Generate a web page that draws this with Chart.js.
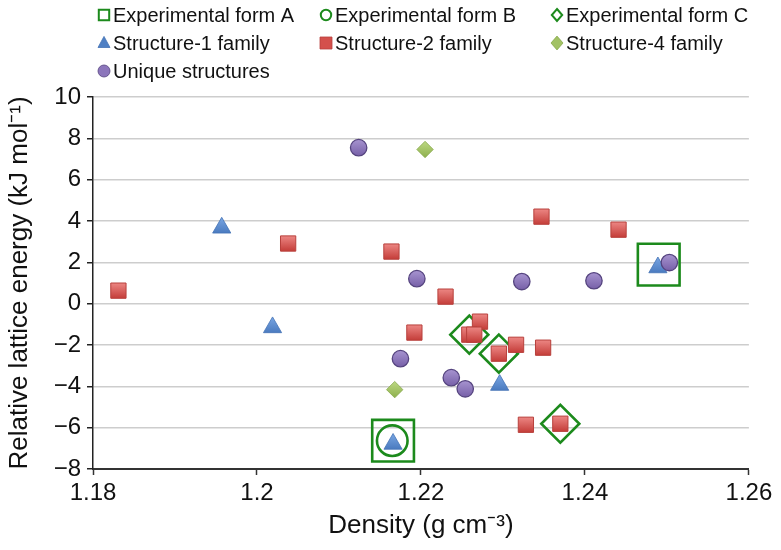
<!DOCTYPE html>
<html>
<head>
<meta charset="utf-8">
<script src="https://cdn.jsdelivr.net/npm/chart.js@4/dist/chart.umd.min.js"></script>
<style>
  html, body { margin: 0; padding: 0; background: #ffffff; }
  #wrap { width: 781px; height: 550px; }
</style>
</head>
<body>
<div id="wrap"><canvas id="c" width="781" height="550"></canvas></div>
<script>
// ---------------- DATA ----------------
const seriesNames = [
  'Experimental form A', 'Experimental form B', 'Experimental form C',
  'Structure-1 family', 'Structure-2 family', 'Structure-4 family',
  'Unique structures'
];

const formA_x = [1.2166, 1.2490];
const formA_y = [-6.63, 1.89];

const formB_x = [1.2165];
const formB_y = [-6.63];

const formC_x = [1.2259, 1.2295, 1.2370];
const formC_y = [-1.50, -2.42, -5.81];

const struct1_x = [1.1957, 1.2019, 1.2296, 1.2166, 1.2489];
const struct1_y = [3.67, -1.15, -3.94, -6.79, 1.75];

const struct2_x = [1.1831, 1.2038, 1.2164, 1.2347, 1.2441, 1.2230, 1.2192, 1.2272,
                   1.2259, 1.2265, 1.2295, 1.2316, 1.2349, 1.2328, 1.2370];
const struct2_y = [0.63, 2.91, 2.52, 4.21, 3.58, 0.34, -1.40, -0.87,
                   -1.50, -1.50, -2.42, -1.99, -2.13, -5.86, -5.81];

const struct4_x = [1.2205, 1.2168];
const struct4_y = [7.46, -4.16];

const unique_x = [1.2124, 1.2195, 1.2323, 1.2411, 1.2503, 1.2175, 1.2237, 1.2254];
const unique_y = [7.55, 1.21, 1.07, 1.11, 1.99, -2.66, -3.58, -4.12];

const xTickValues = [1.18, 1.20, 1.22, 1.24, 1.26];
const xTickLabels = ['1.18', '1.2', '1.22', '1.24', '1.26'];
const yTickValues = [-8, -6, -4, -2, 0, 2, 4, 6, 8, 10];
const yTickLabels = ['\u22128', '\u22126', '\u22124', '\u22122', '0', '2', '4', '6', '8', '10'];

const xTitle = 'Density (g cm\u207B\u00B3)';
const yTitle = 'Relative lattice energy (kJ mol\u207B\u00B9)';

// ---------------- helpers ----------------
function pts(xs, ys) { return xs.map((x, i) => ({ x: x, y: ys[i] })); }

function vGrad(top, bottom, radius) {
  return function (ctx) {
    if (ctx.type !== 'data' || !ctx.chart.scales || !ctx.chart.scales.y) return bottom;
    const y = ctx.chart.scales.y.getPixelForValue(ctx.raw.y);
    if (!isFinite(y)) return bottom;
    const g = ctx.chart.ctx.createLinearGradient(0, y - radius, 0, y + radius);
    g.addColorStop(0, top);
    g.addColorStop(1, bottom);
    return g;
  };
}

const FONT = "'Liberation Sans', Arial, Helvetica, sans-serif";
const EXP_GREEN = '#1c8a1c';

const datasets = [
  { label: seriesNames[0], data: pts(formA_x, formA_y), pointStyle: 'rect', pointRadius: 29.5,
    backgroundColor: 'rgba(0,0,0,0)', borderColor: EXP_GREEN, borderWidth: 2.6, order: 10,
    legendFill: 'rgba(0,0,0,0)', legendStroke: EXP_GREEN },
  { label: seriesNames[1], data: pts(formB_x, formB_y), pointStyle: 'circle', pointRadius: 15.3,
    backgroundColor: 'rgba(0,0,0,0)', borderColor: EXP_GREEN, borderWidth: 2.6, order: 10,
    legendFill: 'rgba(0,0,0,0)', legendStroke: EXP_GREEN },
  { label: seriesNames[2], data: pts(formC_x, formC_y), pointStyle: 'rectRot', pointRadius: 19,
    backgroundColor: 'rgba(0,0,0,0)', borderColor: EXP_GREEN, borderWidth: 2.6, order: 10,
    legendFill: 'rgba(0,0,0,0)', legendStroke: EXP_GREEN },
  { label: seriesNames[3], data: pts(struct1_x, struct1_y), pointStyle: 'triangle', pointRadius: 10.5,
    backgroundColor: vGrad('#79a6e3', '#3b6cb3', 10.5), borderColor: '#4472b5', borderWidth: 0.8, order: 3,
    legendFill: '#4f80c4', legendStroke: '#4472b5' },
  { label: seriesNames[4], data: pts(struct2_x, struct2_y), pointStyle: 'rect', pointRadius: 10.8,
    backgroundColor: vGrad('#ec8683', '#c43d39', 7.6), borderColor: '#b8403c', borderWidth: 1, order: 2,
    legendFill: '#d4504c', legendStroke: '#b8403c' },
  { label: seriesNames[5], data: pts(struct4_x, struct4_y), pointStyle: 'rectRot', pointRadius: 8.2,
    backgroundColor: vGrad('#bcd882', '#8eb04d', 8.2), borderColor: '#86a84a', borderWidth: 0.8, order: 2,
    legendFill: '#a2c264', legendStroke: '#86a84a' },
  { label: seriesNames[6], data: pts(unique_x, unique_y), pointStyle: 'circle', pointRadius: 8.2,
    backgroundColor: vGrad('#a794d0', '#7760a8', 8.2), borderColor: '#55447f', borderWidth: 1.3, order: 1,
    legendFill: '#8c76bb', legendStroke: '#55447f' }
];

// legend placement (column, row) for each dataset, in dataset order
const legendSlots = [[0, 0], [1, 0], [2, 0], [0, 1], [1, 1], [2, 1], [0, 2]];
const legendColX = [104, 326, 557];
const legendRowY = [15, 43, 71];

function drawIcon(ctx, style, x, y, r, fill, stroke, lw) {
  ctx.save();
  ctx.beginPath();
  if (style === 'rect') {
    ctx.rect(x - r, y - r, 2 * r, 2 * r);
  } else if (style === 'circle') {
    ctx.arc(x, y, r, 0, Math.PI * 2);
  } else if (style === 'rectRot') {
    ctx.moveTo(x, y - r * 1.15); ctx.lineTo(x + r * 1.0, y); ctx.lineTo(x, y + r * 1.15); ctx.lineTo(x - r * 1.0, y); ctx.closePath();
  } else if (style === 'triangle') {
    ctx.moveTo(x, y - r * 1.1); ctx.lineTo(x + r * 1.0, y + r * 0.75); ctx.lineTo(x - r * 1.0, y + r * 0.75); ctx.closePath();
  }
  ctx.fillStyle = fill; ctx.fill();
  ctx.lineWidth = lw; ctx.strokeStyle = stroke; ctx.stroke();
  ctx.restore();
}

const gridLegend = {
  id: 'gridLegend',
  afterDraw(chart) {
    const ctx = chart.ctx;
    chart.data.datasets.forEach((ds, i) => {
      const slot = legendSlots[i];
      const cx = legendColX[slot[0]];
      const cy = legendRowY[slot[1]];
      const open = ds.legendFill === 'rgba(0,0,0,0)';
      drawIcon(ctx, ds.pointStyle, cx, cy, open ? 5.2 : 6, ds.legendFill, ds.legendStroke, open ? 2 : 0.8);
      ctx.save();
      ctx.fillStyle = '#111';
      ctx.font = '20px ' + FONT;
      ctx.textAlign = 'left';
      ctx.textBaseline = 'middle';
      ctx.fillText(ds.label, cx + 9, cy + 1);
      ctx.restore();
    });
  }
};

new Chart(document.getElementById('c'), {
  type: 'scatter',
  data: { datasets: datasets },
  plugins: [gridLegend],
  options: {
    responsive: false,
    animation: false,
    devicePixelRatio: 1,
    layout: { padding: { left: 0, right: 27, top: 97, bottom: 0 } },
    plugins: { legend: { display: false }, tooltip: { enabled: false } },
    elements: { point: { hoverRadius: 0 } },
    datasets: { scatter: { clip: false } },
    scales: {
      x: {
        type: 'linear', min: 1.18, max: 1.26,
        afterBuildTicks: (s) => { s.ticks = xTickValues.map(v => ({ value: v })); },
        afterFit: (s) => { s.height = 81; },
        ticks: {
          callback: (v, i) => xTickLabels[i],
          font: { family: FONT, size: 24 }, color: '#111', padding: 4,
          maxRotation: 0, autoSkip: false
        },
        grid: { display: true, drawOnChartArea: false, drawTicks: true, tickLength: 6, tickColor: '#333', tickWidth: 1.5 },
        border: { display: true, color: '#333', width: 2 },
        title: { display: true, text: xTitle, font: { family: FONT, size: 26 }, color: '#111', padding: { top: 0, bottom: 9 } }
      },
      y: {
        type: 'linear', min: -8, max: 10,
        afterBuildTicks: (s) => { s.ticks = yTickValues.map(v => ({ value: v })); },
        afterFit: (s) => { s.width = 93; },
        ticks: {
          callback: (v, i) => yTickLabels[i],
          font: { family: FONT, size: 24 }, color: '#111', padding: 6, autoSkip: false
        },
        grid: { color: '#cdcdcd', lineWidth: 1.5, drawTicks: true, tickLength: 6, tickColor: '#222', tickWidth: 1.5 },
        border: { display: true, color: '#222', width: 1.5 },
        title: { display: true, text: yTitle, font: { family: FONT, size: 26 }, color: '#111', padding: { top: 4, bottom: 0 } }
      }
    }
  }
});
</script>
</body>
</html>
